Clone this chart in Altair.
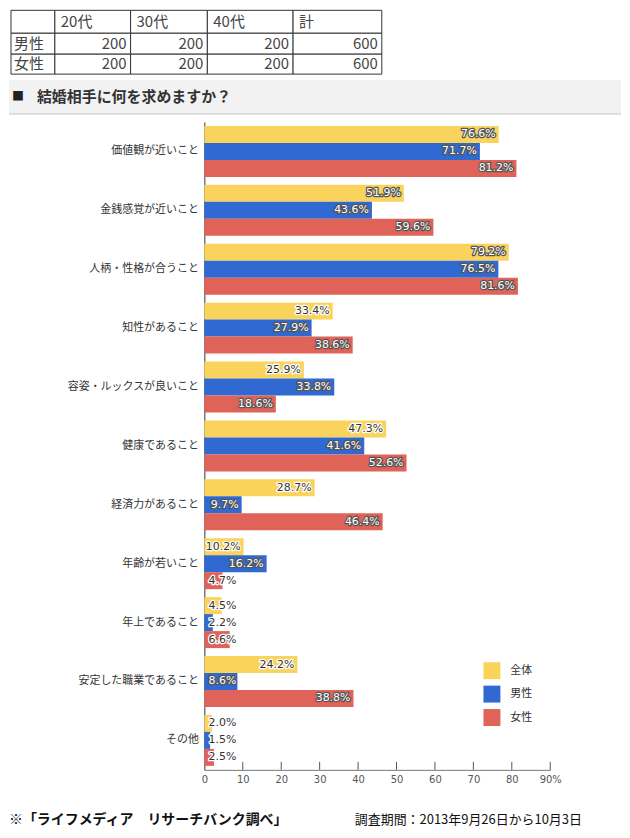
import altair as alt
import pandas as pd

# ---------------- data ----------------
categories = ["価値観が近いこと", "金銭感覚が近いこと", "人柄・性格が合うこと", "知性があること",
              "容姿・ルックスが良いこと", "健康であること", "経済力があること", "年齢が若いこと",
              "年上であること", "安定した職業であること", "その他"]
series = ["全体", "男性", "女性"]
total = [76.6, 51.9, 79.2, 33.4, 25.9, 47.3, 28.7, 10.2, 4.5, 24.2, 2.0]
male = [71.7, 43.6, 76.5, 27.9, 33.8, 41.6, 9.7, 16.2, 2.2, 8.6, 1.5]
female = [81.2, 59.6, 81.6, 38.6, 18.6, 52.6, 46.4, 4.7, 6.6, 38.8, 2.5]
x_ticks = [0, 10, 20, 30, 40, 50, 60, 70, 80, 90]

table_header = ["", "20代", "30代", "40代", "計"]
table_rows = ["男性", "女性"]
table_male = [200, 200, 200, 600]
table_female = [200, 200, 200, 600]

title_text = "結婚相手に何を求めますか？"
footer_left = "※「ライフメディア　リサーチバンク調べ」"
footer_right = "調査期間：2013年9月26日から10月3日"

# ---------------- layout / style ----------------
W, H = 347, 650
FONT = "Noto Sans CJK JP"
COLORS = ["#F9D35B", "#2F69D1", "#E0635A"]
COL_EDGES = [-194, -150, -74, 3, 89, 178]   # pixel edges relative to plot origin
ROW_EDGES = [-112, -89, -68, -48]

rows = []
for s, vals in zip(series, [total, male, female]):
    for c, v in zip(categories, vals):
        rows.append({"cat": c, "series": s, "value": v})
df = pd.DataFrame(rows)

x_scale = alt.Scale(domain=[0, 90], nice=False)
x_axis = alt.Axis(values=x_ticks, ticks=False, grid=False, title=None,
                  labelExpr="datum.value == 90 ? '90%' : datum.label",
                  labelOverlap=False, labelFlush=False,
                  domainColor="#777", labelColor="#555", labelFontSize=10,
                  labelFont="DejaVu Sans", labelPadding=5)
y_scale = alt.Scale(paddingInner=0.135, paddingOuter=0.0675)
y_axis = alt.Axis(title=None, ticks=False, domainColor="#333", labelFontSize=11,
                  labelColor="#333", labelPadding=6, labelFont=FONT, labelLimit=200)
yoff = alt.YOffset("series:N", sort=series, scale=alt.Scale(paddingInner=0, paddingOuter=0))

bars = alt.Chart(df).mark_bar().encode(
    x=alt.X("value:Q", scale=x_scale, axis=x_axis),
    y=alt.Y("cat:N", sort=categories, scale=y_scale, axis=y_axis),
    yOffset=yoff,
    color=alt.Color("series:N", sort=series, scale=alt.Scale(domain=series, range=COLORS),
                    legend=alt.Legend(title=None, orient="none", legendX=280, legendY=542,
                                      symbolType="square", symbolSize=289, symbolStrokeWidth=0,
                                      symbolOpacity=1, labelFontSize=11, labelColor="#333",
                                      labelFont=FONT, rowPadding=6.5, labelOffset=10, padding=0)),
)

tick_df = pd.DataFrame({"t": x_ticks[1:]})
ticks = alt.Chart(tick_df).mark_rule(color="#555", strokeWidth=1).encode(
    x=alt.X("t:Q", scale=x_scale, axis=x_axis), y=alt.value(H - 8), y2=alt.value(H))

text_base = alt.Chart(df).transform_calculate(
    lx="max(datum.value, 9.1)",
    lab="format(datum.value, '.1f') + '%'",
    dark="(datum.series == '全体' && datum.value < 50) || datum.value < 8",
)
enc_common = dict(
    x=alt.X("lx:Q", scale=x_scale, axis=x_axis),
    y=alt.Y("cat:N", sort=categories, scale=y_scale, axis=y_axis),
    yOffset=yoff,
    text="lab:N",
)
halo = text_base.mark_text(align="right", baseline="middle", dx=-3, fontSize=11,
                           font="DejaVu Sans", strokeWidth=2.5, strokeJoin="round").encode(
    fill=alt.condition("datum.dark", alt.value("white"), alt.value("#555")),
    stroke=alt.condition("datum.dark", alt.value("white"), alt.value("#555")),
    **enc_common,
)
labels = text_base.mark_text(align="right", baseline="middle", dx=-3, fontSize=11,
                             font="DejaVu Sans").encode(
    fill=alt.condition("datum.dark", alt.value("#333"), alt.value("white")),
    **enc_common,
)

# ---------------- table ----------------
cells, ltext, rtext = [], [], []
body = [table_header, [table_rows[0]] + table_male, [table_rows[1]] + table_female]
for r in range(3):
    for c in range(5):
        cells.append({"x0": COL_EDGES[c], "x1": COL_EDGES[c + 1],
                      "y0": ROW_EDGES[r], "y1": ROW_EDGES[r + 1]})
        v = body[r][c]
        ym = (ROW_EDGES[r] + ROW_EDGES[r + 1]) / 2
        if isinstance(v, str):
            if v:
                ltext.append({"x": COL_EDGES[c] + (3 if c == 0 else 6), "y": ym, "t": v})
        else:
            rtext.append({"x": COL_EDGES[c + 1] - 4, "y": ym, "t": str(v)})

XN = lambda f: alt.X(f, scale=None, axis=None)
YN = lambda f: alt.Y(f, scale=None, axis=None)

tab_rect = alt.Chart(pd.DataFrame(cells)).mark_rect(fill="white", stroke="#333", strokeWidth=1).encode(
    x=XN("x0:Q"), x2="x1:Q", y=YN("y0:Q"), y2="y1:Q")
tab_l = alt.Chart(pd.DataFrame(ltext)).mark_text(align="left", baseline="middle", fontSize=15,
                                                 font=FONT, color="#444").encode(
    x=XN("x:Q"), y=YN("y:Q"), text="t:N")
tab_r = alt.Chart(pd.DataFrame(rtext)).mark_text(align="right", baseline="middle", fontSize=15,
                                                 font=FONT, color="#444").encode(
    x=XN("x:Q"), y=YN("y:Q"), text="t:N")

# ---------------- title band ----------------
band = alt.Chart(pd.DataFrame([{"x0": -196, "x1": 418, "y0": -42, "y1": -8}])).mark_rect(
    fill="#f2f2f2").encode(x=XN("x0:Q"), x2="x1:Q", y=YN("y0:Q"), y2="y1:Q")
band_line = alt.Chart(pd.DataFrame([{"x0": -196, "x1": 418, "y0": -8}])).mark_rule(
    color="#c4c4c4", strokeWidth=1).encode(x=XN("x0:Q"), x2="x1:Q", y=YN("y0:Q"))
title_df = pd.DataFrame([{"x": -193, "y": -25, "t": "■"},
                         {"x": -168, "y": -25, "t": title_text}])
title_sq = alt.Chart(title_df.iloc[[0]]).mark_text(align="left", baseline="middle", fontSize=12,
                                                   font=FONT, color="#222").encode(
    x=XN("x:Q"), y=YN("y:Q"), text="t:N")
title_tx = alt.Chart(title_df.iloc[[1]]).mark_text(align="left", baseline="middle", fontSize=15,
                                                   fontWeight="bold", font=FONT, color="#333").encode(
    x=XN("x:Q"), y=YN("y:Q"), text="t:N")

# ---------------- footer ----------------
foot_l = alt.Chart(pd.DataFrame([{"x": -196, "y": 700, "t": footer_left}])).mark_text(
    align="left", baseline="middle", fontSize=14, fontWeight="bold", font=FONT, color="#111").encode(
    x=XN("x:Q"), y=YN("y:Q"), text="t:N")
foot_r = alt.Chart(pd.DataFrame([{"x": 151, "y": 700, "t": footer_right}])).mark_text(
    align="left", baseline="middle", fontSize=13, font=FONT, color="#111").encode(
    x=XN("x:Q"), y=YN("y:Q"), text="t:N")

chart = alt.layer(
    band, band_line, title_sq, title_tx, tab_rect, tab_l, tab_r,
    bars, ticks, halo, labels, foot_l, foot_r,
).properties(width=W, height=H, padding=0, background="white").configure_view(stroke=None)

chart.save("out.html", embed_options={"renderer": "svg", "actions": False})
